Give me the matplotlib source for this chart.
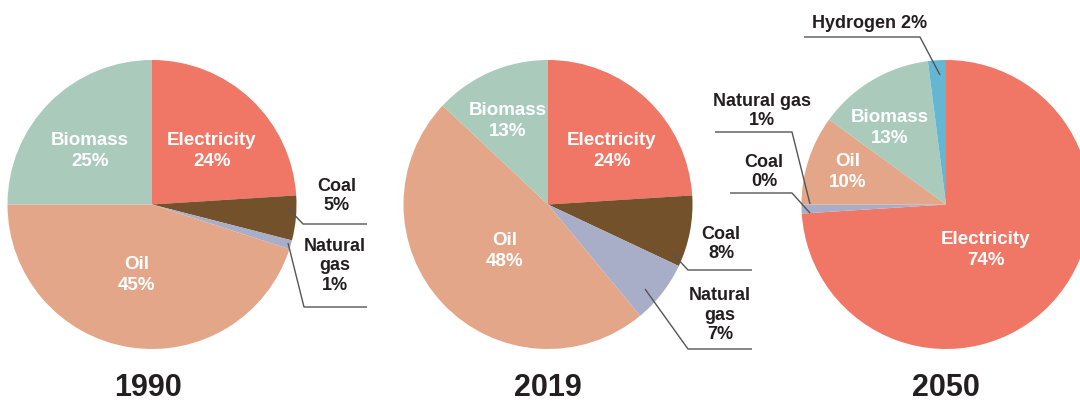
import matplotlib.pyplot as plt

W, H = 1080, 401

years = ["1990", "2019", "2050"]
labels_1990 = ["Electricity", "Coal", "Natural gas", "Oil", "Biomass"]
values_1990 = [24, 5, 1, 45, 25]
labels_2019 = ["Electricity", "Coal", "Natural gas", "Oil", "Biomass"]
values_2019 = [24, 8, 7, 48, 13]
labels_2050 = ["Electricity", "Coal", "Natural gas", "Oil", "Biomass", "Hydrogen"]
values_2050 = [74, 0, 1, 10, 13, 2]

colors = {
    "Electricity": "#F07666",
    "Coal": "#72512B",
    "Natural gas": "#A8AEC8",
    "Oil": "#E4A688",
    "Biomass": "#AACBBC",
    "Hydrogen": "#64B6D3",
}

dark = "#231F20"
font = ["Liberation Sans", "DejaVu Sans"]
narrow = ["Liberation Sans Narrow", "Liberation Sans", "DejaVu Sans"]

fig = plt.figure(figsize=(W / 100, H / 100), dpi=100)
ax = fig.add_axes([0, 0, 1, 1])


def Y(y):
    return H - y


def draw_pie(cx, labels, values):
    ax.pie(values, colors=[colors[l] for l in labels], startangle=90,
           counterclock=False, center=(cx, Y(204.5)), radius=144.5,
           wedgeprops=dict(linewidth=0))


def inner(x, y, s):
    ax.text(x, Y(y), s, color="white", ha="center", va="center",
            fontsize=13.5, fontweight="bold", family=font, linespacing=1.25)


def outer(x, y, s):
    ax.text(x, Y(y), s, color=dark, ha="center", va="center",
            fontsize=13, fontweight="bold", family=font, linespacing=1.2)


def leader(pts):
    ax.plot([p[0] for p in pts], [Y(p[1]) for p in pts], color="#555555",
            lw=1.0, solid_capstyle="butt")


# 1990
draw_pie(152, labels_1990, values_1990)
inner(90, 151, "Biomass\n25%")
inner(212, 151, "Electricity\n24%")
inner(137, 275, "Oil\n45%")
outer(337, 196, "Coal\n5%")
outer(335, 266, "Natural\ngas\n1%")
leader([(288, 208), (303, 224), (367, 224)])
leader([(288, 243), (304, 307), (367, 307)])

# 2019
draw_pie(548, labels_2019, values_2019)
inner(508, 121, "Biomass\n13%")
inner(612, 151, "Electricity\n24%")
inner(505, 251, "Oil\n48%")
outer(721, 244, "Coal\n8%")
outer(720, 315, "Natural\ngas\n7%")
leader([(673, 254), (688, 270), (752, 270)])
leader([(645, 289), (688, 349), (752, 349)])

# 2050
draw_pie(946, labels_2050, values_2050)
inner(890, 128, "Biomass\n13%")
inner(848, 172, "Oil\n10%")
inner(986, 250, "Electricity\n74%")
outer(870, 24, "Hydrogen 2%")
outer(762, 111, "Natural gas\n1%")
outer(764, 172, "Coal\n0%")
leader([(940, 75), (920, 37), (804, 37)])
leader([(810, 204), (792, 132), (715, 132)])
leader([(810, 213), (792, 193), (730, 193)])

for cx, yr in zip([148, 548, 946], years):
    ax.text(cx, Y(388), yr, color=dark, ha="center", va="center",
            fontsize=22, fontweight="bold", family=narrow)

ax.set_xlim(0, W)
ax.set_ylim(0, H)
ax.set_aspect("auto")
ax.axis("off")

fig.savefig("out.png", dpi=100)
